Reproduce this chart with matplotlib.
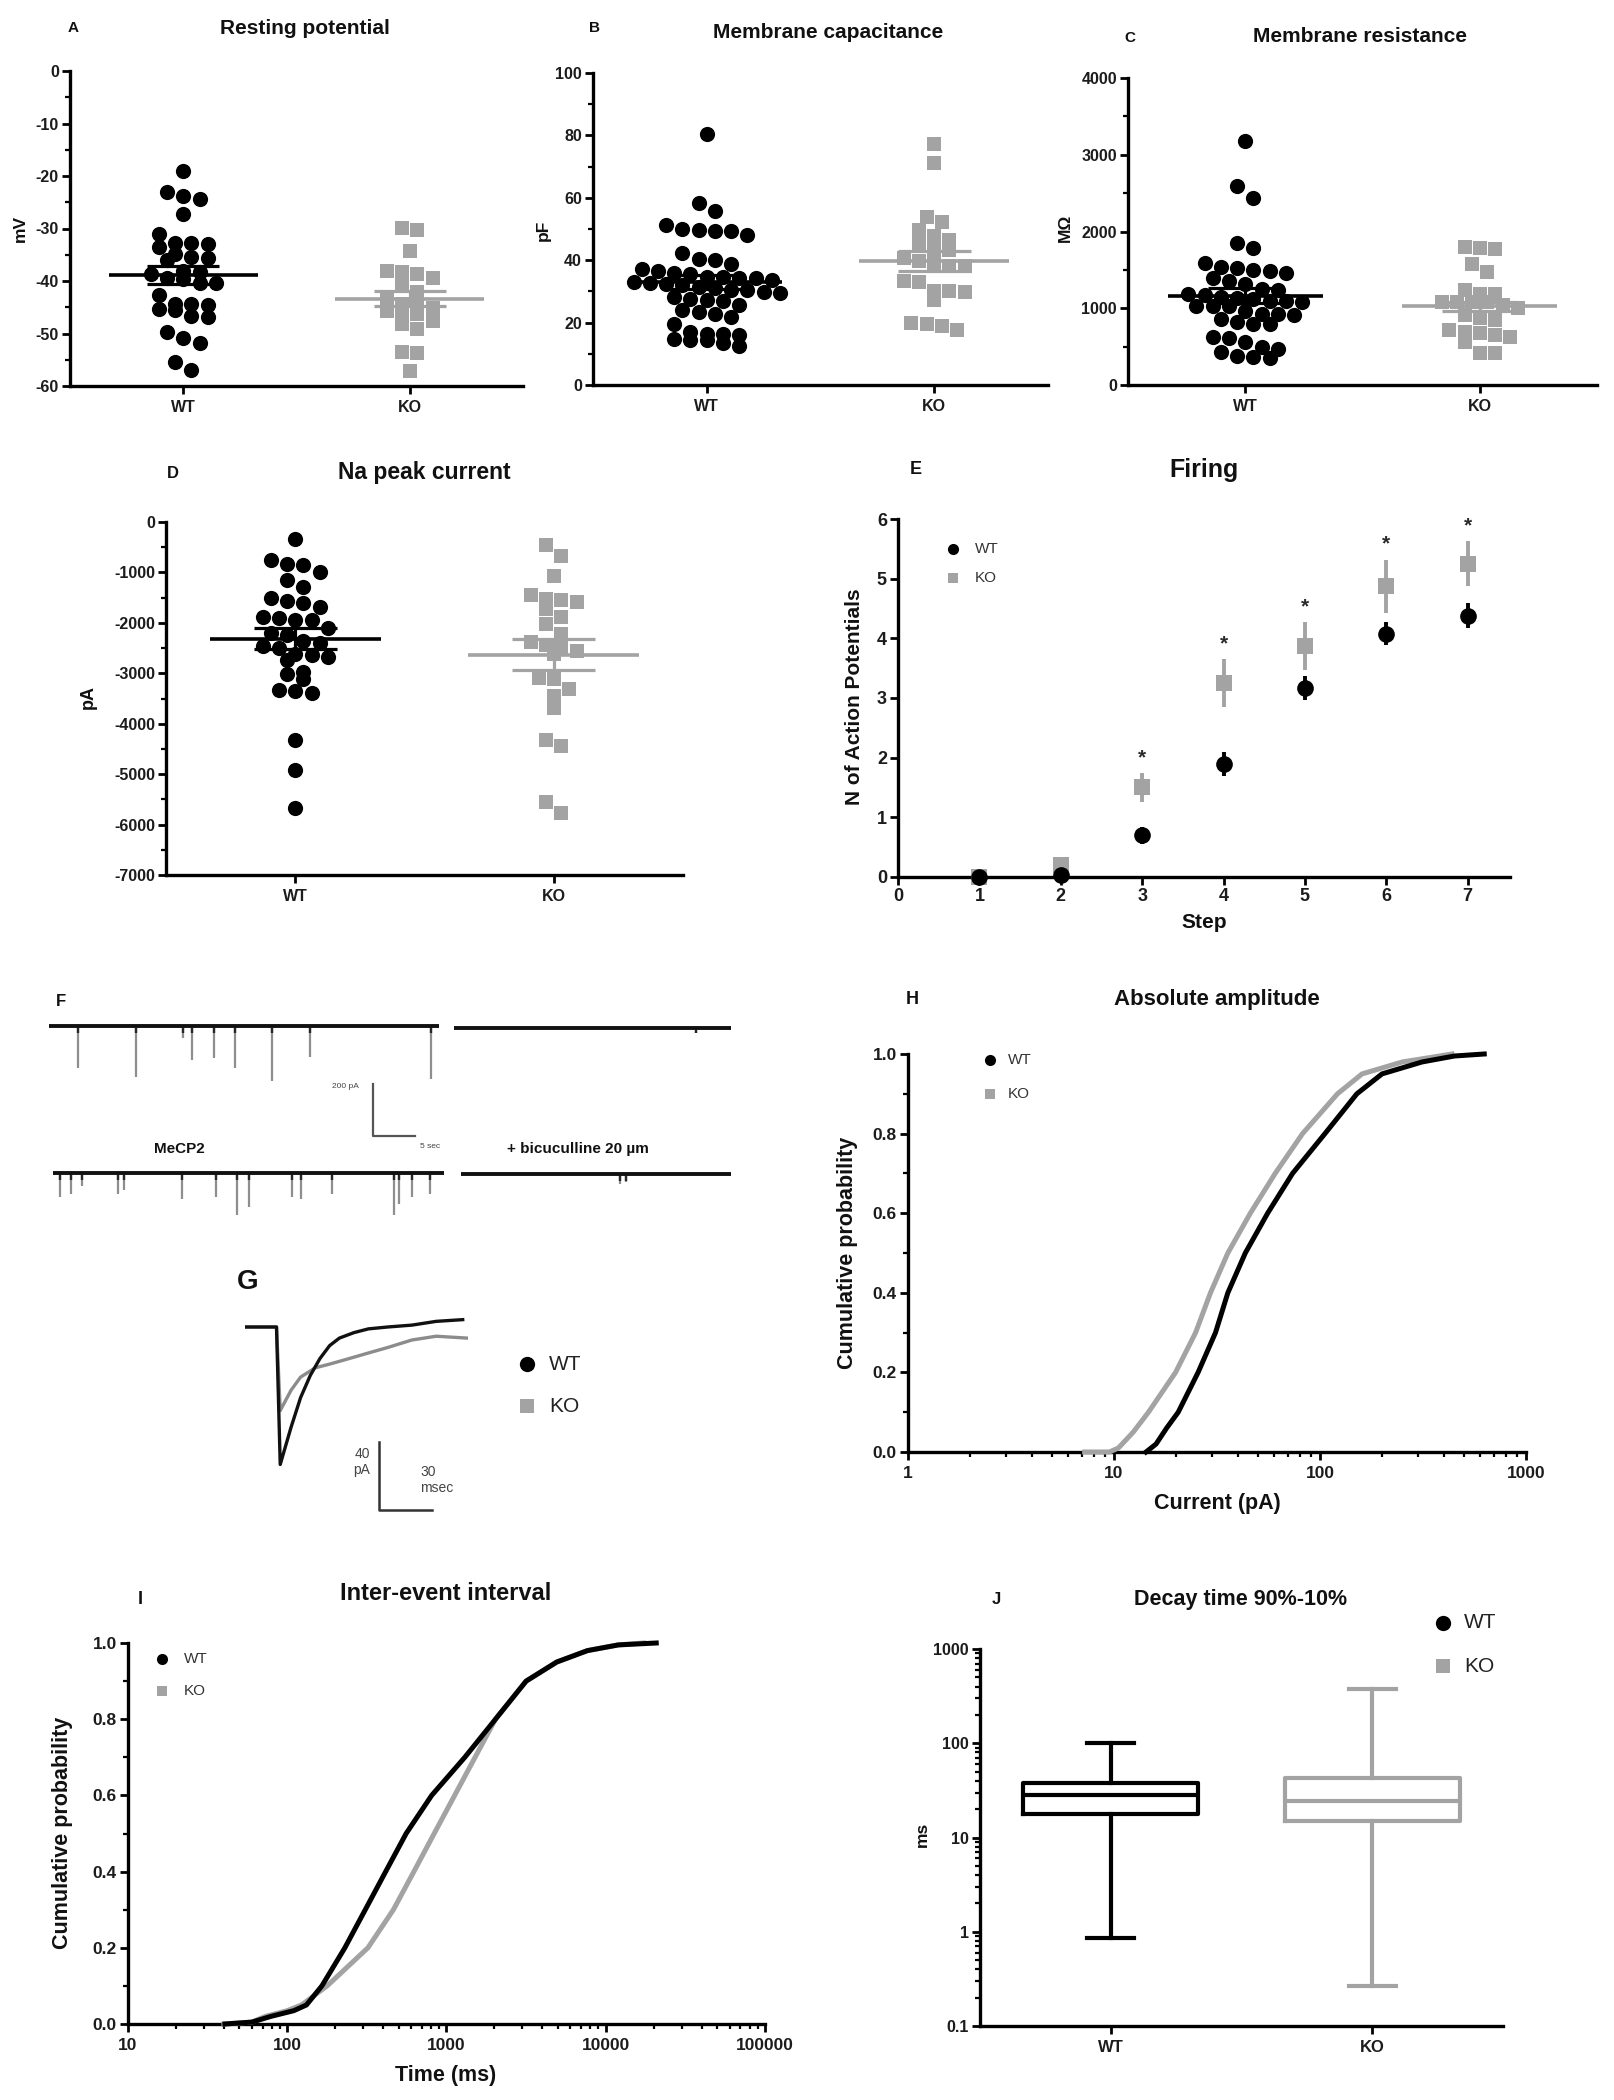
import numpy as np
import matplotlib
matplotlib.use('Agg')
import matplotlib.pyplot as plt
from matplotlib.ticker import MultipleLocator, FixedLocator, FixedFormatter, LogLocator, NullFormatter
from matplotlib.lines import Line2D

W, H, DPI = 1615, 2100, 100
plt.rcParams['font.family'] = ['Liberation Sans', 'DejaVu Sans']
plt.rcParams['font.weight'] = 'bold'
plt.rcParams['axes.unicode_minus'] = False

INK = '#000000'
GREY = '#a3a3a3'
TXT = '#1c1c1c'

groups = ['WT', 'KO']

# ---------------- A: resting potential (mV) ----------------
rest_wt = [-19.0, -23.8, -24.3, -23.1, -27.3, -31.1, -32.7, -33.6, -33.0, -32.7, -35.5, -36.0,
           -34.9, -35.7, -38.0, -38.6, -39.5, -40.3, -40.4, -39.7, -38.3, -42.7, -44.3, -44.6,
           -45.5, -46.8, -46.7, -45.4, -44.4, -49.7, -50.8, -51.9, -55.5, -56.9]
rest_ko = [-29.9, -30.3, -34.3, -38.2, -39.4, -38.7, -38.1, -40.6, -42.0, -44.4, -45.0, -45.7,
           -46.2, -45.7, -45.2, -47.6, -48.2, -49.1, -53.5, -53.8, -57.1, -43.0]
rest_mean = [-38.9, -43.4]
rest_sem = [1.75, 1.45]

# ---------------- B: membrane capacitance (pF) ----------------
cap_wt = [80.4, 58.4, 55.7, 50.1, 49.5, 48.1, 49.3, 49.8, 51.2, 42.3, 40.2, 38.8, 40.4,
          35.9, 34.6, 34.3, 33.8, 36.4, 37.2, 34.3, 34.6, 35.7, 33.0, 32.5, 32.0, 31.5, 32.8,
          30.3, 29.8, 31.1, 29.5, 30.3, 28.1, 27.3, 26.8, 27.7, 25.7,
          23.3, 22.7, 23.9, 21.8, 19.6, 17.1, 16.4, 14.8, 14.3, 12.5, 13.4, 14.3, 15.9, 16.4]
cap_ko = [77.2, 71.3, 53.9, 52.2, 49.8, 47.9, 45.2, 46.4, 43.2, 43.6, 39.7, 39.1, 40.7, 38.0,
          38.0, 32.9, 33.4, 30.2, 29.7, 30.0, 27.3, 19.6, 17.5, 18.8, 19.8]
cap_mean = [32.9, 39.7]
cap_sem = [2.2, 3.2]

# ---------------- C: membrane resistance (MOhm) ----------------
res_wt = [3185, 2591, 2436, 1855, 1790, 1595, 1538, 1525, 1482, 1460, 1495, 1400, 1322, 1352,
          1244, 1257, 1192, 1170, 1150, 1130, 1100, 1080, 1120, 1100, 1027, 1027, 1027, 966,
          931, 910, 931, 854, 793, 793, 815, 628, 607, 555, 468, 498, 425, 377, 355, 368]
res_ko = [1777, 1798, 1790, 1582, 1473, 1235, 1192, 1192, 1080, 1080, 1080, 1080, 1040, 997,
          845, 910, 867, 685, 715, 650, 672, 628, 563, 412, 412]
res_mean = [1166, 1027]
res_sem = [100, 60]

# ---------------- D: Na peak current (pA) ----------------
na_wt = [-330, -825, -990, -858, -759, -1142, -1288, -1499, -1605, -1684, -1565, -1882, -1948,
         -1935, -1895, -2100, -2200, -2250, -2350, -2400, -2450, -2500, -2641, -2727, -2608,
         -2675, -3123, -3005, -2972, -3348, -3388, -3335, -4326, -4920, -5679]
na_ko = [-462, -680, -1076, -1519, -1585, -1539, -1453, -1717, -1882, -2027, -2225, -2377,
         -2477, -2443, -2608, -3104, -3084, -3302, -3454, -3698, -4326, -4445, -5547, -5765, -2550]
na_mean = [-2311, -2628]
na_sem = [200, 300]

# ---------------- E: firing ----------------
steps = [1, 2, 3, 4, 5, 6, 7]
fire_wt = [0.0, 0.03, 0.70, 1.90, 3.17, 4.08, 4.38]
fire_wt_err = [0.0, 0.0, 0.14, 0.20, 0.20, 0.20, 0.21]
fire_ko = [0.0, 0.20, 1.50, 3.25, 3.87, 4.87, 5.25]
fire_ko_err = [0.0, 0.0, 0.24, 0.40, 0.40, 0.45, 0.38]
fire_sig = [0, 0, 1, 1, 1, 1, 1]

# ---------------- F: example traces (s, pA) ----------------
f_durations = [46.4, 33.0, 46.5, 32.1]   # top-left, top-right, bottom-left, bottom-right
f_ev_t = [[3.4, 10.4, 16.0, 17.0, 19.6, 22.2, 26.6, 31.1, 45.5],
          [28.8],
          [0.8, 2.1, 3.5, 7.7, 8.5, 15.4, 19.4, 21.9, 23.3, 28.4, 29.5, 33.2, 40.6, 41.2, 42.7, 44.9],
          [18.9, 19.7]]
f_ev_amp = [[160, 196, 46, 129, 124, 160, 210, 120, 203],
            [20],
            [93, 79, 50, 79, 64, 100, 93, 161, 129, 93, 100, 81, 161, 121, 93, 79],
            [38, 32]]
f_bar_pA, f_bar_s = 200, 5

# ---------------- G: averaged events (ms, pA) ----------------
g_wt_t = [0, 17.8, 19.9, 26, 31.4, 36.9, 42.3, 47.8, 53.3, 61.5, 69.7, 80.6, 94.3, 108, 123]
g_wt_i = [0, 0, -80.4, -58.7, -41.3, -28.3, -18.5, -10.9, -6.5, -3.3, -1.1, 0, 1.1, 3.3, 4.3]
g_ko_t = [0, 17.8, 19.9, 26, 31.4, 39.6, 47.8, 58.7, 69.7, 80.6, 94.3, 108, 125.7]
g_ko_i = [0, 0, -48.9, -37, -29.3, -23.9, -21.7, -18.5, -15.2, -12, -7.6, -5.4, -6.5]
g_bar_pA, g_bar_ms = 40, 30

# ---------------- H: absolute amplitude cumulative ----------------
amp_wt_x = [14.3, 16, 18, 20.5, 25.6, 31.1, 35.7, 43.4, 55.7, 73.6, 105.7, 151, 200, 313, 450, 627]
amp_wt_y = [0.0, 0.02, 0.06, 0.1, 0.2, 0.3, 0.4, 0.5, 0.6, 0.7, 0.8, 0.9, 0.95, 0.98, 0.995, 1.0]
amp_ko_x = [7.2, 9.5, 10.5, 12.4, 14.7, 19.9, 24.9, 29.4, 35.7, 45.9, 60.6, 82.3, 121.6, 160, 251, 437]
amp_ko_y = [0.0, 0.0, 0.01, 0.05, 0.1, 0.2, 0.3, 0.4, 0.5, 0.6, 0.7, 0.8, 0.9, 0.95, 0.98, 1.0]

# ---------------- I: inter-event interval cumulative ----------------
iei_wt_x = [40.6, 60, 79, 110, 132, 165, 230, 309, 415, 558, 807, 1303, 2030, 3162, 4920, 7670, 12000, 20750]
iei_wt_y = [0.0, 0.005, 0.02, 0.035, 0.05, 0.1, 0.2, 0.3, 0.4, 0.5, 0.6, 0.7, 0.8, 0.9, 0.95, 0.98, 0.995, 1.0]
iei_ko_x = [40, 60, 73, 100, 123, 178, 321, 464, 624, 837, 1125, 1511, 2030, 3162, 4920, 7670, 12000, 17260]
iei_ko_y = [0.0, 0.005, 0.02, 0.035, 0.05, 0.1, 0.2, 0.3, 0.4, 0.5, 0.6, 0.7, 0.8, 0.9, 0.95, 0.98, 0.995, 1.0]

# ---------------- J: decay time box plot (ms) ----------------
decay_min = [0.85, 0.267]
decay_q1 = [17.9, 14.9]
decay_med = [28.4, 24.6]
decay_q3 = [38.0, 42.5]
decay_max = [101, 374]

# =====================================================================
fig = plt.figure(figsize=(W / DPI, H / DPI), dpi=DPI)
fig.patch.set_facecolor('white')


def box(l, t, r, b):
    return fig.add_axes([l / W, 1 - b / H, (r - l) / W, (b - t) / H])


def ftxt(x, y, s, size, weight='bold', ha='center', va='center', color='#111111', rot=0):
    fig.text(x / W, 1 - y / H, s, fontsize=size, fontweight=weight, ha=ha, va=va,
             color=color, rotation=rot)


def fmark(x, y, marker, color, ms):
    fig.add_artist(Line2D([x / W], [1 - y / H], marker=marker, color=color, ms=ms,
                          linestyle='none', markeredgewidth=0, transform=fig.transFigure))


def style(ax, tsize):
    for s in ['top', 'right']:
        ax.spines[s].set_visible(False)
    for s in ['left', 'bottom']:
        ax.spines[s].set_linewidth(2.4)
        ax.spines[s].set_color(INK)
    ax.tick_params(which='major', direction='out', length=6, width=2.0, labelsize=tsize,
                   pad=2, color=INK, labelcolor=TXT)
    ax.tick_params(which='minor', direction='out', length=3.5, width=1.6, color=INK)


def swarm_offsets(vals, ppy, ppx, d_px):
    vals = np.asarray(vals, float)
    order = np.argsort(-vals)
    rows, cur = [], [order[0]]
    for idx in order[1:]:
        if abs(vals[cur[0]] - vals[idx]) * ppy < d_px * 0.8:
            cur.append(idx)
        else:
            rows.append(cur)
            cur = [idx]
    rows.append(cur)
    off = np.zeros(len(vals))
    for row in rows:
        n = len(row)
        for k, idx in enumerate(row):
            off[idx] = (k - (n - 1) / 2) * d_px * 1.05 / ppx
    return off


def dotplot(ax, lbox, data, means, sems, ylim, major, minor, tsize=11.5):
    l, t, r, b = lbox
    ppx = (r - l) / 2.0
    ppy = (b - t) / (ylim[1] - ylim[0])
    for i, vals in enumerate(data):
        color = INK if i == 0 else GREY
        if i == 0:
            off = swarm_offsets(vals, ppy, ppx, 15.5)
            ax.scatter(i + off, vals, s=120, marker='o', color=color, lw=0, zorder=3, clip_on=False)
        else:
            off = swarm_offsets(vals, ppy, ppx, 14.5)
            ax.scatter(i + off, vals, s=88, marker='s', color=color, lw=0, zorder=3, clip_on=False)
        m, s = means[i], sems[i]
        ax.hlines(m, i - 0.33, i + 0.33, color=color, lw=2.6, zorder=4)
        ax.hlines([m - s, m + s], i - 0.16, i + 0.16, color=color, lw=2.3, zorder=4)
        ax.vlines(i, m - s, m + s, color=color, lw=2.3, zorder=4)
    ax.set_xlim(-0.5, 1.5)
    ax.set_ylim(*ylim)
    ax.set_xticks([0, 1])
    ax.set_xticklabels(groups)
    ax.yaxis.set_major_locator(MultipleLocator(major))
    ax.yaxis.set_minor_locator(MultipleLocator(minor))
    style(ax, tsize)
    ax.tick_params(axis='x', labelsize=11.5, pad=4)


# ---- Row 1 ----
bA = (70, 71, 523, 386)
axA = box(*bA)
dotplot(axA, bA, [rest_wt, rest_ko], rest_mean, rest_sem, (-60, 0), 10, 5)
ftxt(73, 28, 'A', 11)
ftxt(305, 28, 'Resting potential', 15)
ftxt(20, 228, 'mV', 12.5, rot=90)

bB = (593, 73, 1048, 385)
axB = box(*bB)
dotplot(axB, bB, [cap_wt, cap_ko], cap_mean, cap_sem, (0, 100), 20, 10)
ftxt(594, 28, 'B', 11)
ftxt(828, 32, 'Membrane capacitance', 15)
ftxt(543, 230, 'pF', 12.5, rot=90)

bC = (1128, 78, 1597, 385)
axC = box(*bC)
dotplot(axC, bC, [res_wt, res_ko], res_mean, res_sem, (0, 4000), 1000, 500)
ftxt(1130, 38, 'C', 11)
ftxt(1360, 36, 'Membrane resistance', 15)
ftxt(1065, 228, 'MΩ', 12.5, rot=90)

# ---- Row 2 ----
bD = (166, 522, 683, 875)
axD = box(*bD)
dotplot(axD, bD, [na_wt, na_ko], na_mean, na_sem, (-7000, 0), 1000, 500)
ftxt(173, 473, 'D', 12)
ftxt(424, 473, 'Na peak current', 16.5)
ftxt(88, 697, 'pA', 13, rot=90)

bE = (898, 519, 1510, 877)
axE = box(*bE)
axE.errorbar(steps, fire_ko, yerr=fire_ko_err, fmt='s', color=GREY, ms=11, capsize=13,
             elinewidth=2.8, capthick=2.8, markeredgewidth=0, clip_on=False, zorder=3)
axE.errorbar(steps, fire_wt, yerr=fire_wt_err, fmt='o', color=INK, ms=12, capsize=13,
             elinewidth=2.8, capthick=2.8, markeredgewidth=0, clip_on=False, zorder=4)
for st, k, ke, sg in zip(steps, fire_ko, fire_ko_err, fire_sig):
    if sg:
        axE.text(st, k + ke + 0.1, '*', ha='center', va='bottom', fontsize=15, color='#2a2a2a')
axE.set_xlim(0, 7.52)
axE.set_ylim(0, 6)
axE.set_xticks(range(0, 8))
axE.set_yticks(range(0, 7))
style(axE, 13)
ftxt(916, 470, 'E', 13)
ftxt(1204, 470, 'Firing', 18)
ftxt(854, 697, 'N of Action Potentials', 15, rot=90)
ftxt(1204, 922, 'Step', 15)
fmark(953, 549, 'o', INK, 8)
ftxt(975, 549, 'WT', 11, weight='normal', ha='left', color='#333333')
fmark(953, 578, 's', GREY, 7)
ftxt(975, 578, 'KO', 11, weight='normal', ha='left', color='#333333')

# ---- F: traces ----
PX_S, PX_PA = 8.4, 0.26
f_boxes = [(49, 1026), (454, 1028), (53, 1173), (461, 1174)]  # (left px, baseline px)
for (lx, base), dur, et, ea in zip(f_boxes, f_durations, f_ev_t, f_ev_amp):
    top = base - 35 * PX_PA
    bot = base + 250 * PX_PA
    ax = box(lx, top, lx + dur * PX_S, bot)
    ax.set_xlim(0, dur)
    ax.set_ylim(-250, 35)
    ax.axis('off')
    ea = np.asarray(ea, float)
    ax.vlines(et, -ea, 0, color='#8e8e8e', lw=1.6)
    ax.vlines(et, -np.minimum(ea, 25), 0, color='#262626', lw=1.7)
    ax.plot([0, dur], [0, 0], color='#111111', lw=2.8, solid_capstyle='butt')
# scale bar
sb = box(373, 1136 - f_bar_pA * PX_PA, 373 + f_bar_s * PX_S, 1136)
sb.plot([0, 0, f_bar_s], [f_bar_pA, 0, 0], color='#555555', lw=1.6, clip_on=False)
sb.set_xlim(0, f_bar_s)
sb.set_ylim(0, f_bar_pA)
sb.axis('off')
ftxt(359, 1087, '200 pA', 6, weight='normal', ha='right', color='#444444')
ftxt(420, 1147, '5 sec', 6, weight='normal', ha='left', color='#444444')
ftxt(61, 1001, 'F', 12)
ftxt(179, 1149, 'MeCP2', 11)
ftxt(578, 1149, '+ bicuculline 20 µm', 11)

# ---- G: average events ----
G_PX_MS, G_PX_PA = 1.77, 1.71
gbase = 1327
axG = box(245, gbase - 15 * G_PX_PA, 245 + 126 * G_PX_MS, gbase + 90 * G_PX_PA)
axG.plot(g_ko_t, g_ko_i, color='#8c8c8c', lw=2.4)
axG.plot(g_wt_t, g_wt_i, color='#111111', lw=2.4)
axG.set_xlim(0, 126)
axG.set_ylim(-90, 15)
axG.axis('off')
gs = box(379, 1510 - g_bar_pA * G_PX_PA, 379 + g_bar_ms * G_PX_MS, 1510)
gs.plot([0, 0, g_bar_ms], [g_bar_pA, 0, 0], color='#333333', lw=1.8, clip_on=False)
gs.set_xlim(0, g_bar_ms)
gs.set_ylim(0, g_bar_pA)
gs.axis('off')
ftxt(248, 1282, 'G', 20)
ftxt(370, 1462, '40\npA', 10, weight='normal', ha='right', color='#444444')
ftxt(420, 1480, '30\nmsec', 10, weight='normal', ha='left', color='#444444')
fmark(527, 1364, 'o', INK, 11)
ftxt(549, 1364, 'WT', 15, weight='normal', ha='left', color='#222222')
fmark(527, 1406, 's', GREY, 10)
ftxt(549, 1406, 'KO', 15, weight='normal', ha='left', color='#222222')


def cumul_axes(ax, xlim, xt):
    ax.set_xscale('log')
    ax.set_xlim(*xlim)
    ax.set_ylim(0, 1.0)
    ax.xaxis.set_major_locator(FixedLocator(xt))
    ax.xaxis.set_major_formatter(FixedFormatter([str(v) for v in xt]))
    ax.xaxis.set_minor_locator(LogLocator(base=10, subs=range(2, 10), numticks=20))
    ax.xaxis.set_minor_formatter(NullFormatter())
    ax.yaxis.set_major_locator(MultipleLocator(0.2))
    ax.yaxis.set_minor_locator(MultipleLocator(0.1))
    ax.yaxis.set_major_formatter(plt.FuncFormatter(lambda v, p: f'{v:.1f}'))
    style(ax, 12.5)
    ax.tick_params(axis='x', pad=4)


# ---- H ----
axH = box(908, 1054, 1526, 1452)
axH.plot(amp_ko_x, amp_ko_y, color=GREY, lw=3.6, clip_on=False, zorder=3)
axH.plot(amp_wt_x, amp_wt_y, color=INK, lw=3.6, clip_on=False, zorder=4)
cumul_axes(axH, (1, 1000), [1, 10, 100, 1000])
ftxt(912, 1000, 'H', 13)
ftxt(1217, 999, 'Absolute amplitude', 16)
ftxt(848, 1253, 'Cumulative probability', 15.5, rot=90)
ftxt(1217, 1503, 'Current (pA)', 15.5)
fmark(990, 1060, 'o', INK, 8)
ftxt(1008, 1060, 'WT', 11, weight='normal', ha='left', color='#333333')
fmark(990, 1094, 's', GREY, 7)
ftxt(1008, 1094, 'KO', 11, weight='normal', ha='left', color='#333333')

# ---- I ----
axI = box(128, 1643, 765, 2024)
axI.plot(iei_ko_x, iei_ko_y, color=GREY, lw=3.6, clip_on=False, zorder=3)
axI.plot(iei_wt_x, iei_wt_y, color=INK, lw=3.6, clip_on=False, zorder=4)
cumul_axes(axI, (10, 100000), [10, 100, 1000, 10000, 100000])
ftxt(140, 1599, 'I', 13)
ftxt(446, 1593, 'Inter-event interval', 17)
ftxt(63, 1833, 'Cumulative probability', 15.5, rot=90)
ftxt(446, 2076, 'Time (ms)', 15.5)
fmark(162, 1659, 'o', INK, 8)
ftxt(184, 1659, 'WT', 11, weight='normal', ha='left', color='#333333')
fmark(162, 1691, 's', GREY, 7)
ftxt(184, 1691, 'KO', 11, weight='normal', ha='left', color='#333333')

# ---- J ----
axJ = box(980, 1649, 1503, 2026)
for i in range(2):
    color = INK if i == 0 else GREY
    st = [dict(med=decay_med[i], q1=decay_q1[i], q3=decay_q3[i], whislo=decay_min[i],
               whishi=decay_max[i], label=groups[i])]
    lp = dict(color=color, lw=3.0)
    axJ.bxp(st, positions=[i + 1], widths=0.67, showfliers=False, capwidths=0.18,
            boxprops=lp, whiskerprops=lp, capprops=lp, medianprops=lp, manage_ticks=False)
axJ.set_yscale('log')
axJ.set_ylim(0.1, 1000)
axJ.set_xlim(0.5, 2.5)
axJ.set_xticks([1, 2])
axJ.set_xticklabels(groups)
axJ.yaxis.set_major_locator(FixedLocator([0.1, 1, 10, 100, 1000]))
axJ.yaxis.set_major_formatter(FixedFormatter(['0.1', '1', '10', '100', '1000']))
axJ.yaxis.set_minor_locator(LogLocator(base=10, subs=range(2, 10), numticks=20))
axJ.yaxis.set_minor_formatter(NullFormatter())
style(axJ, 11.5)
axJ.tick_params(axis='x', labelsize=12, pad=4)
ftxt(996, 1600, 'J', 12)
ftxt(1241, 1600, 'Decay time 90%-10%', 15.5)
ftxt(922, 1834, 'ms', 12.5, rot=90)
fmark(1443, 1623, 'o', INK, 11)
ftxt(1464, 1623, 'WT', 15, weight='normal', ha='left', color='#222222')
fmark(1443, 1666, 's', GREY, 10)
ftxt(1464, 1666, 'KO', 15, weight='normal', ha='left', color='#222222')

fig.savefig('out.png', dpi=DPI, facecolor='white')
